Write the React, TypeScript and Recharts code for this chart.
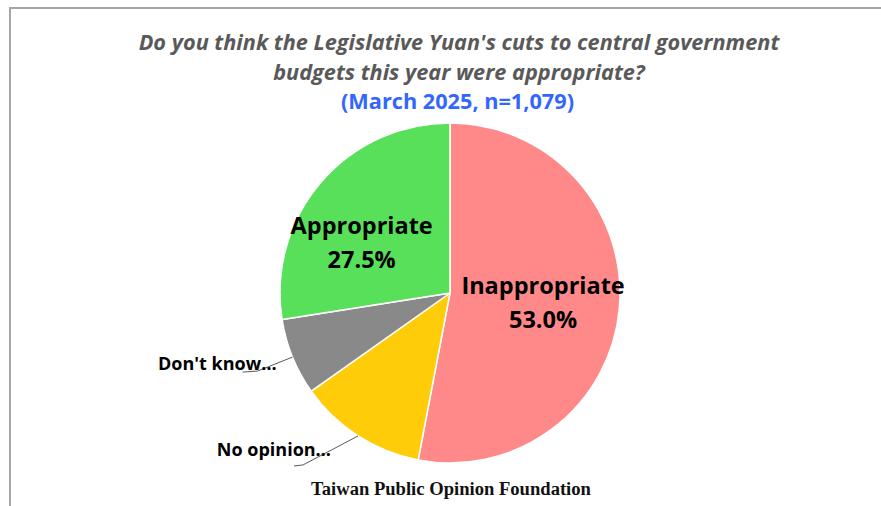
import { PieChart, Pie, Cell } from "recharts";

const categories = ["Inappropriate", "No opinion", "Don't know", "Appropriate"];
const shares = [53.0, 12.2, 7.3, 27.5];
const sliceColors = ["#FF8989", "#FFCC0A", "#898989", "#58E05A"];
const insideLabels = ["Inappropriate", "Appropriate"];

const data = categories.map((name, i) => ({ name, value: shares[i] }));

const RADIAN = Math.PI / 180;

// label tweaks (style only)
const insideTweak: Record<string, { rf: number; shift: number }> = {
  Inappropriate: { rf: 0.55, shift: 0 },
  Appropriate: { rf: 0.6, shift: 10.5 },
};
const leaderTweak: Record<string, { ex: number; ey: number; tail: number; tx: number; ty: number }> = {
  "Don't know": { ex: -35, ey: 14, tail: 15, tx: 19, ty: -1 },
  "No opinion": { ex: -55, ey: 29, tail: 9, tx: 28, ty: -9 },
};

const font = "'Open Sans', Lato, sans-serif";

function renderLabel(props: any) {
  const { cx, cy, midAngle, outerRadius, name, value } = props;
  if (insideLabels.includes(name)) {
    const t = insideTweak[name];
    const a = (midAngle + t.shift) * RADIAN;
    const r = outerRadius * t.rf;
    const x = cx + r * Math.cos(-a);
    const y = cy + r * Math.sin(-a);
    return (
      <text
        x={x}
        y={y}
        textAnchor="middle"
        fontFamily={font}
        fontWeight={700}
        fontSize={23.5}
        fill="#000"
      >
        <tspan x={x} y={y - 17} dominantBaseline="central">
          {name}
        </tspan>
        <tspan x={x} y={y + 17} dominantBaseline="central">
          {value.toFixed(1)}%
        </tspan>
      </text>
    );
  }
  const t = leaderTweak[name];
  const a = midAngle * RADIAN;
  const sx = cx + outerRadius * Math.cos(-a);
  const sy = cy + outerRadius * Math.sin(-a);
  const ex = sx + t.ex;
  const ey = sy + t.ey;
  return (
    <g>
      <path
        d={`M${sx},${sy}L${ex},${ey}L${ex - t.tail},${ey + 1}`}
        stroke="#595959"
        strokeWidth={1}
        fill="none"
      />
      <text
        x={ex + t.tx}
        y={ey + t.ty}
        textAnchor="end"
        fontFamily={font}
        fontWeight={700}
        fontSize={18}
        fill="#000"
      >
        {name}…
      </text>
    </g>
  );
}

export default function App() {
  return (
    <div
      style={{
        position: "absolute",
        left: 0,
        top: 0,
        width: 881,
        height: 506,
        background: "#fff",
        overflow: "hidden",
        fontFamily: font,
      }}
    >
      <div
        style={{
          position: "absolute",
          left: 9,
          top: 7,
          width: 880,
          height: 520,
          borderTop: "2px solid #a6a6a6",
          borderLeft: "2px solid #a6a6a6",
          boxSizing: "border-box",
        }}
      />
      <div
        style={{
          position: "absolute",
          left: 0,
          top: 27,
          width: 918,
          textAlign: "center",
          fontWeight: 700,
          fontStyle: "italic",
          fontSize: 21.7,
          lineHeight: "30px",
          color: "#595959",
        }}
      >
        Do you think the Legislative Yuan's cuts to central government
        <br />
        budgets this year were appropriate?
      </div>
      <div
        style={{
          position: "absolute",
          left: 0,
          top: 87,
          width: 915,
          textAlign: "center",
          fontWeight: 700,
          fontSize: 21.7,
          lineHeight: "28px",
          color: "#3366FF",
        }}
      >
        (March 2025, n=1,079)
      </div>
      <div style={{ position: "absolute", left: 0, top: 0 }}>
        <PieChart
          width={881}
          height={506}
          margin={{ top: 0, right: 0, bottom: 0, left: 0 }}
        >
          <Pie
            data={data}
            dataKey="value"
            nameKey="name"
            cx={450}
            cy={293}
            outerRadius={170}
            startAngle={90}
            endAngle={-270}
            stroke="#fff"
            strokeWidth={1.5}
            label={renderLabel}
            labelLine={false}
            isAnimationActive={false}
          >
            {data.map((d, i) => (
              <Cell key={d.name} fill={sliceColors[i]} />
            ))}
          </Pie>
        </PieChart>
      </div>
      <div
        style={{
          position: "absolute",
          left: 0,
          top: 478,
          width: 902,
          textAlign: "center",
          fontFamily: "'Liberation Serif', serif",
          fontWeight: 700,
          fontSize: 18.6,
          color: "#111",
        }}
      >
        Taiwan Public Opinion Foundation
      </div>
    </div>
  );
}
